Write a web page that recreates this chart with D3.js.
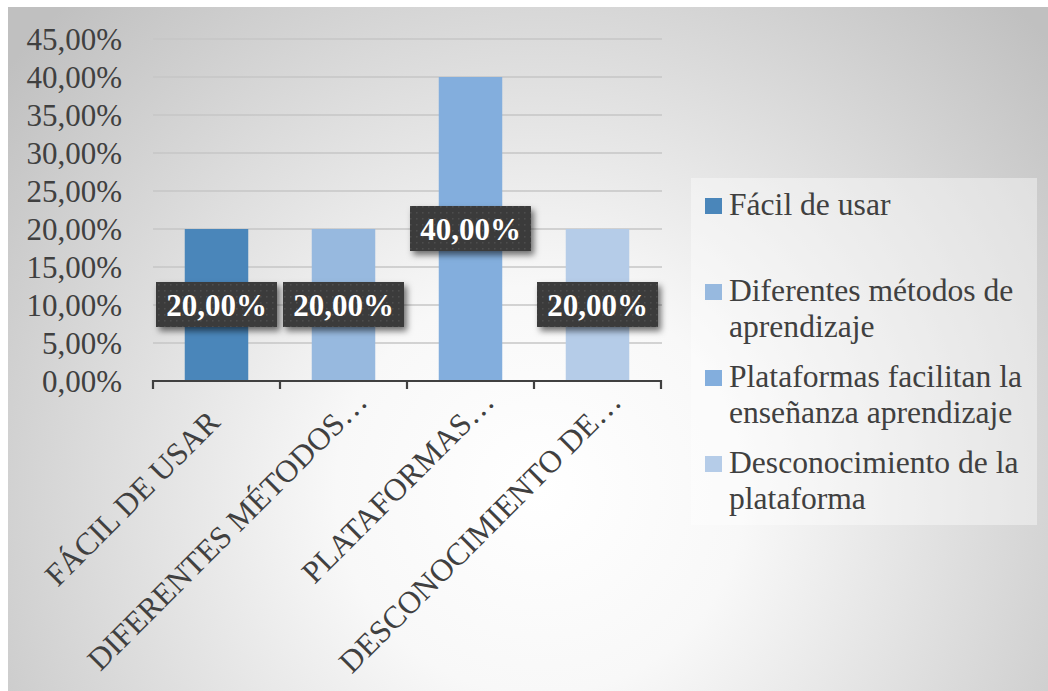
<!DOCTYPE html>
<html><head><meta charset="utf-8">
<script src="https://cdn.jsdelivr.net/npm/d3@7"></script>
<style>body{margin:0;background:#fff}svg{display:block}</style>
</head><body>
<svg id="c" width="1048" height="691"></svg>
<script>
const categories = ["FÁCIL DE USAR", "DIFERENTES MÉTODOS…", "PLATAFORMAS…", "DESCONOCIMIENTO DE…"];
const legendLabels = [["Fácil de usar"], ["Diferentes métodos de", "aprendizaje"], ["Plataformas facilitan la", "enseñanza aprendizaje"], ["Desconocimiento de la", "plataforma"]];
const values = [0.20, 0.20, 0.40, 0.20];
const valueLabels = ["20,00%", "20,00%", "40,00%", "20,00%"];
const yTicks = [0, 0.05, 0.10, 0.15, 0.20, 0.25, 0.30, 0.35, 0.40, 0.45];
const yTickLabels = ["0,00%", "5,00%", "10,00%", "15,00%", "20,00%", "25,00%", "30,00%", "35,00%", "40,00%", "45,00%"];
const colors = ["#4a86ba", "#97b9df", "#83aedd", "#b5cce8"];

const FONT = "'Liberation Serif','Times New Roman',serif";
const svg = d3.select("#c");
const defs = svg.append("defs");
const rg = defs.append("radialGradient").attr("id","bg").attr("gradientUnits","userSpaceOnUse")
  .attr("cx",540).attr("cy",490).attr("r",680);
rg.append("stop").attr("offset","0").attr("stop-color","#ffffff");
rg.append("stop").attr("offset","0.3").attr("stop-color","#f8f8f8");
rg.append("stop").attr("offset","1").attr("stop-color","#c0c0c0");
const pat = defs.append("pattern").attr("id","dots").attr("patternUnits","userSpaceOnUse").attr("width",6).attr("height",6);
pat.append("rect").attr("width",6).attr("height",6).attr("fill","#3b3b3b");
pat.append("rect").attr("x",2).attr("y",2).attr("width",1.5).attr("height",1.5).attr("fill","#4d4d4d");
const f = defs.append("filter").attr("id","sh").attr("x","-20%").attr("y","-30%").attr("width","150%").attr("height","180%");
f.append("feDropShadow").attr("dx",3).attr("dy",4).attr("stdDeviation",3).attr("flood-color","#000").attr("flood-opacity",0.55);

svg.append("rect").attr("x",8).attr("y",7).attr("width",1040).attr("height",684).attr("fill","url(#bg)");

const y = d3.scaleLinear().domain([0,0.45]).range([381,39]);
const x = d3.scaleBand().domain(categories).range([153,661]).paddingInner(0.5).paddingOuter(0.25);

// gridlines
svg.append("g").selectAll("line").data(yTicks.slice(1)).join("line")
  .attr("x1",153).attr("x2",662).attr("y1",d=>y(d)).attr("y2",d=>y(d))
  .attr("stroke","#c6c6c6").attr("stroke-width",1.5);

// y axis labels
const yAxis = d3.axisLeft(y).tickValues(yTicks).tickFormat((d,i)=>yTickLabels[i]).tickSize(0).tickPadding(0);
const ya = svg.append("g").attr("transform","translate(122,0)").call(yAxis);
ya.select(".domain").remove();
ya.selectAll("text").attr("font-family",FONT).attr("font-size",31).attr("fill","#404040").attr("dy","0.34em");

// bars
svg.append("g").selectAll("rect").data(values).join("rect")
  .attr("x",(d,i)=>x(categories[i])).attr("width",x.bandwidth())
  .attr("y",d=>y(d)).attr("height",d=>y(0)-y(d)).attr("fill",(d,i)=>colors[i]);

// x axis
const edges = [0,1,2,3,4].map(i=>153 + i*(661-153)/4);
const xa = svg.append("g");
xa.append("path").attr("d", d3.line()([[edges[0],389],[edges[0],381],[edges[4],381],[edges[4],389]]))
  .attr("fill","none").attr("stroke","#404040").attr("stroke-width",2.2);
xa.selectAll("line.t").data(edges.slice(1,4)).join("line").attr("class","t")
  .attr("x1",d=>d).attr("x2",d=>d).attr("y1",381).attr("y2",389).attr("stroke","#404040").attr("stroke-width",2.2);
xa.selectAll("text").data(categories).join("text")
  .attr("transform",(d,i)=>{
    const cx = x(d)+x.bandwidth()/2;
    const s = d.endsWith("…") ? 29 : 0;
    const px = cx + 5 + s*Math.SQRT1_2, py = 424 - s*Math.SQRT1_2;
    return `translate(${px},${py}) rotate(-45)`;
  })
  .attr("text-anchor","end").attr("font-family",FONT).attr("font-size",31.5).attr("fill","#404040")
  .text(d=>d);

// data labels
const lg = svg.append("g");
values.forEach((v,i)=>{
  const cx = x(categories[i])+x.bandwidth()/2;
  const cy = (y(v)+y(0))/2;
  const g = lg.append("g");
  g.append("rect").attr("x",cx-60.5).attr("y",cy-23).attr("width",121).attr("height",45)
    .attr("fill","url(#dots)").attr("filter","url(#sh)");
  g.append("text").attr("x",cx).attr("y",cy).attr("dy","0.36em").attr("text-anchor","middle")
    .attr("font-family",FONT).attr("font-weight","bold").attr("font-size",31).attr("fill","#fff")
    .text(valueLabels[i]);
});

// legend
const leg = svg.append("g");
leg.append("rect").attr("x",691).attr("y",178).attr("width",346).attr("height",347).attr("fill","#ffffff").attr("fill-opacity",0.4);
legendLabels.forEach((lines,i)=>{
  const by = 215 + i*86;
  leg.append("rect").attr("x",705).attr("y",by-17).attr("width",17).attr("height",16).attr("fill",colors[i]);
  const t = leg.append("text").attr("x",729).attr("y",by).attr("font-family",FONT).attr("font-size",31.6).attr("fill","#404040");
  lines.forEach((ln,j)=>{ t.append("tspan").attr("x",729).attr("y",by+j*36).text(ln); });
});
</script>
</body></html>
